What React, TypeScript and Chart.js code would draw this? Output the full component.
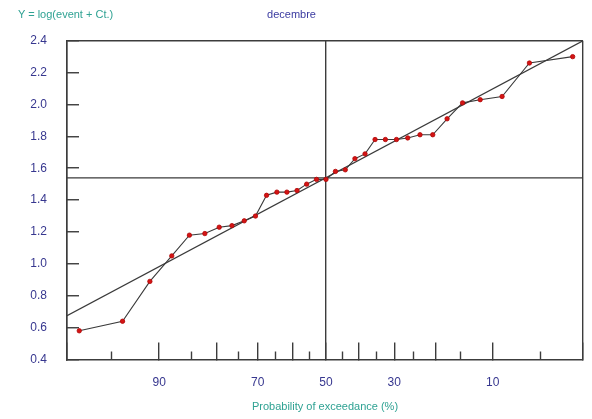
import React, { useEffect, useRef } from "react";
import { Chart, registerables } from "chart.js";

Chart.register(...registerables);

// Probability of exceedance (%) of each observed event (plotting positions)
const exceedancePct = [
  97.1, 94.1, 91.2, 88.2, 85.3, 82.4, 79.4, 76.5, 73.5, 70.6, 67.6, 64.7, 61.8,
  58.8, 55.9, 52.9, 50.0, 47.1, 44.1, 41.2, 38.2, 35.3, 32.4, 29.4, 26.5, 23.5,
  20.6, 17.6, 14.7, 11.8, 8.8, 5.9, 2.9,
];
// Y = log(event + Ct.)
const observedY = [
  0.58, 0.64, 0.89, 1.05, 1.18, 1.19, 1.23, 1.24, 1.27, 1.3, 1.43, 1.45, 1.45,
  1.46, 1.5, 1.53, 1.53, 1.58, 1.59, 1.66, 1.69, 1.78, 1.78, 1.78, 1.79, 1.81,
  1.81, 1.91, 2.01, 2.03, 2.05, 2.26, 2.3,
];
// fitted normal line: mean and slope per standard-normal unit
const fitMean = 1.54;
const fitSlope = 0.435;

const majorTickPct = [90, 80, 70, 60, 50, 40, 30, 20, 10];
const minorTickPct = [95, 85, 75, 65, 55, 45, 35, 25, 15, 5];
const labeledPct = [90, 70, 50, 30, 10];
const yTickValues = [0.4, 0.6, 0.8, 1.0, 1.2, 1.4, 1.6, 1.8, 2.0, 2.2, 2.4];

const xAxisMinU = -1.99;
const xAxisMaxU = 1.975;

const FONT = "'Liberation Sans', Arial, sans-serif";
const NAVY = "#37378f";
const TEAL = "#2fa293";
const FRAME = "#3c3c3c";

function probit(p: number): number {
  const a = [-39.69683028665376, 220.9460984245205, -275.9285104469687, 138.357751867269, -30.66479806614716, 2.506628277459239];
  const b = [-54.47609879822406, 161.5858368580409, -155.6989798598866, 66.80131188771972, -13.28068155288572];
  const c = [-0.007784894002430293, -0.3223964580411365, -2.400758277161838, -2.549732539343734, 4.374664141464968, 2.938163982698783];
  const d = [0.007784695709041462, 0.3224671290700398, 2.445134137142996, 3.754408661907416];
  const pl = 0.02425;
  const ph = 1 - pl;
  if (p < pl) {
    const q = Math.sqrt(-2 * Math.log(p));
    return (((((c[0] * q + c[1]) * q + c[2]) * q + c[3]) * q + c[4]) * q + c[5]) /
      ((((d[0] * q + d[1]) * q + d[2]) * q + d[3]) * q + 1);
  }
  if (p <= ph) {
    const q = p - 0.5;
    const r = q * q;
    return ((((((a[0] * r + a[1]) * r + a[2]) * r + a[3]) * r + a[4]) * r + a[5]) * q) /
      (((((b[0] * r + b[1]) * r + b[2]) * r + b[3]) * r + b[4]) * r + 1);
  }
  const q = Math.sqrt(-2 * Math.log(1 - p));
  return -(((((c[0] * q + c[1]) * q + c[2]) * q + c[3]) * q + c[4]) * q + c[5]) /
    ((((d[0] * q + d[1]) * q + d[2]) * q + d[3]) * q + 1);
}

// exceedance % -> standard normal variate (decreasing exceedance to the right)
const toU = (pct: number) => probit(1 - pct / 100);

type XT = { value: number; kind: "major" | "edge"; pct: number };

export default function App() {
  const canvasRef = useRef<HTMLCanvasElement | null>(null);

  useEffect(() => {
    if (!canvasRef.current) return;

    const observedPts = exceedancePct.map((p, i) => ({ x: toU(p), y: observedY[i] }));
    const fitPts = [
      { x: xAxisMinU, y: fitMean + fitSlope * xAxisMinU },
      { x: xAxisMaxU, y: fitMean + fitSlope * xAxisMaxU },
    ];
    const meanPts = [
      { x: xAxisMinU, y: fitMean },
      { x: xAxisMaxU, y: fitMean },
    ];

    const xTicks: XT[] = [
      { value: xAxisMinU, kind: "edge", pct: -1 },
      ...majorTickPct.map((p) => ({ value: toU(p), kind: "major" as const, pct: p })),
      { value: xAxisMaxU, kind: "edge", pct: -1 },
    ];

    const chart = new Chart(canvasRef.current, {
      type: "scatter",
      data: {
        datasets: [
          {
            data: observedPts,
            showLine: true,
            borderColor: "#3a3a3a",
            borderWidth: 1.1,
            pointRadius: 2.2,
            pointBackgroundColor: "#d41414",
            pointBorderColor: "#b00808",
            pointBorderWidth: 0.8,
          },
          {
            data: fitPts,
            showLine: true,
            borderColor: "#3a3a3a",
            borderWidth: 1.3,
            pointRadius: 0,
          },
          {
            data: meanPts,
            showLine: true,
            borderColor: "#3a3a3a",
            borderWidth: 1.3,
            pointRadius: 0,
          },
        ],
      },
      options: {
        animation: false,
        responsive: true,
        maintainAspectRatio: false,
        layout: { padding: { left: 0, right: 9, top: 0, bottom: 0 } },
        plugins: {
          legend: { display: false },
          tooltip: { enabled: false },
          title: {
            display: true,
            text: "decembre",
            color: "#3a3aa0",
            font: { family: FONT, size: 11, weight: "normal" },
            padding: { top: 8, bottom: 19.5 },
          },
        },
        scales: {
          x: {
            type: "linear",
            position: "bottom",
            min: xAxisMinU,
            max: xAxisMaxU,
            afterBuildTicks: (s: any) => {
              s.ticks = xTicks.map((t) => ({ value: t.value }));
            },
            afterFit: (s: any) => {
              s.height = 59.5;
              s.paddingLeft = 0;
              s.paddingRight = 0;
            },
            ticks: {
              autoSkip: false,
              maxRotation: 0,
              padding: 33,
              color: NAVY,
              font: { family: FONT, size: 12 },
              callback: (_v: any, i: number) => {
                const t = xTicks[i];
                return t && labeledPct.includes(t.pct) ? String(t.pct) : "";
              },
            },
            grid: {
              drawOnChartArea: true,
              drawTicks: true,
              tickLength: -17,
              color: (ctx: any) => {
                const t = xTicks[ctx.index];
                if (!t) return "rgba(0,0,0,0)";
                return t.kind === "edge" || t.pct === 50 ? FRAME : "rgba(0,0,0,0)";
              },
              lineWidth: 1.4,
              tickColor: FRAME,
              tickWidth: 1.4,
            },
            border: { display: true, color: FRAME, width: 1.5 },
            title: {
              display: true,
              text: "Probability of exceedance (%)",
              color: TEAL,
              font: { family: FONT, size: 11 },
              padding: { top: 0, bottom: 5 },
            },
          },
          x2: {
            type: "linear",
            position: "bottom",
            weight: -1,
            min: xAxisMinU,
            max: xAxisMaxU,
            afterBuildTicks: (s: any) => {
              s.ticks = minorTickPct.map((p) => ({ value: toU(p) }));
            },
            afterFit: (s: any) => {
              s.height = 0;
              s.paddingLeft = 0;
              s.paddingRight = 0;
            },
            ticks: { display: false },
            grid: {
              drawOnChartArea: false,
              drawTicks: true,
              tickLength: -8,
              tickColor: FRAME,
              tickWidth: 1.4,
            },
            border: { display: false },
          },
          y: {
            type: "linear",
            position: "left",
            min: 0.4,
            max: 2.4,
            afterBuildTicks: (s: any) => {
              s.ticks = yTickValues.map((v) => ({ value: v }));
            },
            afterFit: (s: any) => {
              s.width = 67;
              s.paddingTop = 0;
              s.paddingBottom = 0;
            },
            ticks: {
              padding: 32,
              color: NAVY,
              font: { family: FONT, size: 12 },
              callback: (v: any) => Number(v).toFixed(1),
            },
            grid: {
              drawOnChartArea: true,
              drawTicks: true,
              tickLength: -12,
              color: (ctx: any) =>
                ctx.index === yTickValues.length - 1 ? FRAME : "rgba(0,0,0,0)",
              lineWidth: 1.5,
              tickColor: FRAME,
              tickWidth: 1.4,
            },
            border: { display: true, color: FRAME, width: 1.5 },
          },
        },
      } as any,
    });

    return () => chart.destroy();
  }, []);

  return (
    <div
      style={{
        position: "fixed",
        left: 0,
        top: 0,
        width: 592,
        height: 419,
        background: "#ffffff",
      }}
    >
      <canvas ref={canvasRef} />
      <span
        style={{
          position: "absolute",
          left: 18,
          top: 8,
          fontFamily: FONT,
          fontSize: 11,
          lineHeight: "13px",
          color: TEAL,
          whiteSpace: "nowrap",
        }}
      >
        Y = log(event + Ct.)
      </span>
    </div>
  );
}
